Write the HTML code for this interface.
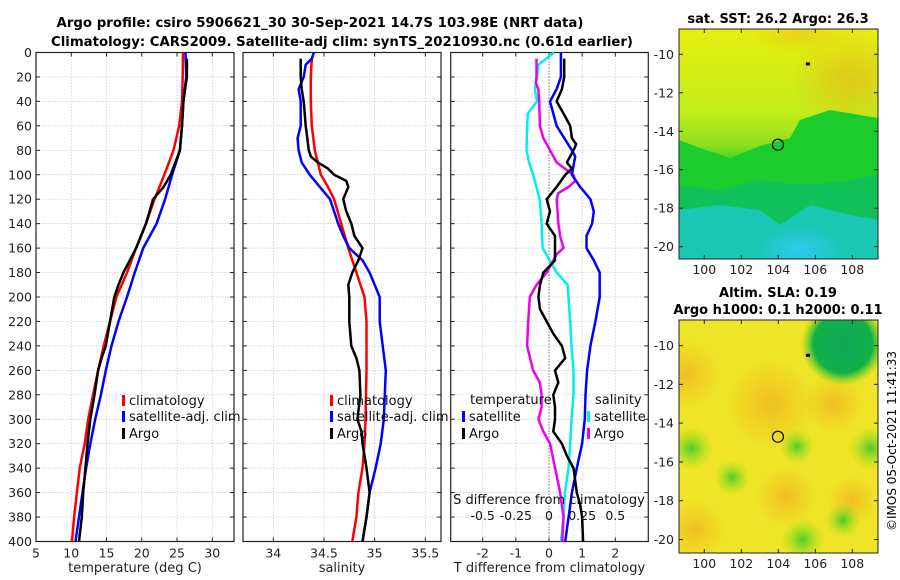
<!DOCTYPE html>
<html><head><meta charset="utf-8"><style>
html,body{margin:0;padding:0;background:#fff;}
svg{display:block;font-family:"DejaVu Sans","Liberation Sans",sans-serif;}
</style></head><body>
<svg id="fig" width="900" height="580" viewBox="0 0 900 580" xmlns="http://www.w3.org/2000/svg">
<defs>
<linearGradient id="sstg" x1="0" y1="0" x2="0" y2="1">
<stop offset="0" stop-color="#e6ee10"/><stop offset="0.35" stop-color="#c4ee18"/><stop offset="0.5" stop-color="#90e020"/>
<stop offset="0.6" stop-color="#22cc28"/><stop offset="0.75" stop-color="#12c050"/><stop offset="0.85" stop-color="#12c4a0"/><stop offset="1" stop-color="#30d0e0"/>
</linearGradient>
<radialGradient id="org"><stop offset="0" stop-color="#f0a020" stop-opacity="0.9"/><stop offset="1" stop-color="#f0a020" stop-opacity="0"/></radialGradient>
<radialGradient id="grn"><stop offset="0" stop-color="#10a858"/><stop offset="0.7" stop-color="#10b048"/><stop offset="1" stop-color="#50d020" stop-opacity="0"/></radialGradient>
<radialGradient id="grn2"><stop offset="0" stop-color="#30c828" stop-opacity="0.85"/><stop offset="1" stop-color="#90e020" stop-opacity="0"/></radialGradient>
<radialGradient id="cyn"><stop offset="0" stop-color="#30c8f0"/><stop offset="1" stop-color="#30c8f0" stop-opacity="0"/></radialGradient>
<clipPath id="c1"><rect x="679" y="29" width="199" height="230"/></clipPath>
<clipPath id="c2"><rect x="679" y="320" width="199" height="233"/></clipPath>
</defs>
<text x="320" y="27" text-anchor="middle" font-size="13" font-weight="bold" textLength="527" lengthAdjust="spacingAndGlyphs">Argo profile: csiro 5906621_30 30-Sep-2021 14.7S 103.98E (NRT data)</text>
<text x="342" y="46" text-anchor="middle" font-size="13" font-weight="bold" textLength="582" lengthAdjust="spacingAndGlyphs">Climatology: CARS2009. Satellite-adj clim: synTS_20210930.nc (0.61d earlier)</text>
<g id="panels"></g>
<g id="maps"></g>
<text transform="translate(896,441) rotate(-90)" text-anchor="middle" font-size="12">©IMOS 05-Oct-2021 11:41:33</text>
</svg>
<script>
const depths=[0,20,40,60,80,100,120,140,160,180,200,220,240,260,280,300,320,340,360,380,400];
const tClim=[25.85,25.8,25.7,25.3,24.5,23.2,21.8,20.6,19.2,17.9,16.4,15.5,14.6,13.8,13.1,12.4,11.9,11.2,10.8,10.4,10.1];
const tSat=[26.2,26.3,25.9,25.7,25.4,24.3,23.3,22.1,20.2,19.0,17.9,16.7,15.7,14.9,14.2,13.4,12.7,12.1,11.6,11.1,10.6];
const argoDepths=[5,20,40,60,80,100,110,120,140,160,170,180,190,200,220,240,250,260,280,300,320,340,360,380,400];
const tArgo=[26.4,26.4,25.9,25.7,25.4,24.1,23.1,21.6,20.6,19.2,18.3,17.4,16.7,16.1,15.5,14.9,14.3,13.8,13.3,12.7,12.3,12.0,11.7,11.5,11.1];
const sDepths=[5,20,40,60,80,100,110,120,140,160,180,200,220,260,300,320,340,360,380,400];
const sClim=[34.38,34.37,34.37,34.38,34.41,34.47,34.54,34.60,34.67,34.74,34.82,34.90,34.92,34.92,34.91,34.90,34.88,34.84,34.82,34.78];
const sSatDepths=[0,5,10,20,30,40,60,70,80,90,100,110,120,140,150,160,170,180,200,220,240,260,280,300,320,340,360,380,400];
const sSat=[34.40,34.38,34.32,34.30,34.25,34.27,34.27,34.24,34.25,34.28,34.36,34.46,34.56,34.64,34.69,34.75,34.88,34.95,35.05,35.05,35.08,35.11,35.10,35.09,35.06,35.01,34.95,34.92,34.88];
const sArgoDepths=[5,20,30,40,60,80,85,90,95,100,105,110,120,130,140,150,160,170,180,190,200,220,240,250,260,280,300,310,320,340,360,380,400];
const sArgo=[34.27,34.27,34.28,34.30,34.32,34.35,34.37,34.44,34.54,34.60,34.72,34.74,34.69,34.72,34.77,34.80,34.88,34.84,34.78,34.74,34.75,34.75,34.77,34.82,34.85,34.86,34.83,34.87,34.88,34.92,34.95,34.92,34.88];
const dtDepths=[0,20,30,40,60,80,85,100,110,120,130,140,150,160,170,180,200,220,240,260,280,300,320,340,360,380,400];
const dtSat=[0.36,0.36,0.23,0.03,0.23,0.69,0.79,0.69,0.94,1.25,1.35,1.3,1.13,1.13,1.35,1.53,1.53,1.4,1.25,1.15,1.1,1.08,1.0,0.84,0.69,0.59,0.49];
const dtArgoDepths=[5,20,30,40,50,60,70,75,80,90,95,100,110,120,130,140,150,160,170,180,190,200,210,220,230,240,250,260,270,280,290,300,310,320,330,340,350,360,370,380,400];
const dtArgo=[0.46,0.46,0.39,0.23,0.44,0.64,0.69,0.82,0.74,0.54,0.69,0.49,0.23,-0.07,0.03,-0.07,0.18,0.18,0.18,-0.17,-0.27,-0.32,-0.27,-0.07,0.13,0.39,0.49,0.18,0.28,0.13,0.18,0.18,0.13,0.39,0.54,0.74,0.79,0.84,0.94,1.0,1.03];
const dsDepths=[0,5,10,20,30,40,50,60,80,90,100,120,140,160,180,190,200,220,240,260,280,300,320,340,360,380,400];
const dsSat=[0.038,-0.02,-0.08,-0.09,-0.107,-0.09,-0.16,-0.165,-0.17,-0.15,-0.12,-0.07,-0.056,-0.048,0.058,0.14,0.147,0.16,0.17,0.185,0.185,0.17,0.16,0.147,0.12,0.11,0.09];
const dsArgoDepths=[5,20,25,30,40,60,70,80,90,95,100,105,110,115,120,140,150,160,165,170,180,190,200,220,240,260,270,280,290,300,310,320,340,360,380,400];
const dsArgo=[-0.094,-0.094,-0.099,-0.081,-0.074,-0.069,-0.043,0.008,0.058,0.12,0.185,0.198,0.147,0.071,0.058,0.071,0.084,0.109,0.058,0.033,-0.018,-0.094,-0.145,-0.157,-0.165,-0.12,-0.069,-0.056,-0.056,-0.08,-0.043,0.008,0.046,0.084,0.109,0.10];
const tTicks=[5,10,15,20,25,30];
const sTicks=[34,34.5,35,35.5];
const dTicks=[-2,-1,0,1,2];
const dsTicks=[-0.5,-0.25,0,0.25,0.5];
const depthTicks=[0,20,40,60,80,100,120,140,160,180,200,220,240,260,280,300,320,340,360,380,400];
const latTicks=[-10,-12,-14,-16,-18,-20];
const lonTicks=[100,102,104,106,108];

const NS="http://www.w3.org/2000/svg";
function mk(tag,attrs,parent,txt){const e=document.createElementNS(NS,tag);for(const k in attrs)e.setAttribute(k,attrs[k]);if(txt!==undefined)e.textContent=txt;parent.appendChild(e);return e;}
const P=document.getElementById('panels');
const Y0=52.5,Y1=541.5;
const yD=d=>Y0+(d/400)*(Y1-Y0);
function lin(d0,d1,p0,p1){return v=>p0+(v-d0)/(d1-d0)*(p1-p0);}
function panel(name,x0,x1,xs,ticks,fmt,xlabel,showDepth){
  const g=mk('g',{},P);
  
  
  depthTicks.forEach(d=>{const l=mk('line',{x1:x0,x2:x1,y1:yD(d),y2:yD(d),stroke:'#b8c4dc','stroke-width':0.7,'stroke-dasharray':'1.5,1.5'},g);
    
    mk('line',{x1:x0,x2:x0+4,y1:yD(d),y2:yD(d),stroke:'#222'},g);mk('line',{x1:x1-4,x2:x1,y1:yD(d),y2:yD(d),stroke:'#222'},g);
    if(showDepth){const t=mk('text',{x:x0-4,y:yD(d)+4.5,'text-anchor':'end','font-size':12.5,fill:'#222'},g,String(d));}
  });
  ticks.forEach(v=>{const x=xs(v);
    const l=mk('line',{x1:x,x2:x,y1:Y0,y2:Y1,stroke:'#b8c4dc','stroke-width':0.7,'stroke-dasharray':'1.5,1.5'},g);
    
    mk('line',{x1:x,x2:x,y1:Y0,y2:Y0+4,stroke:'#222'},g);mk('line',{x1:x,x2:x,y1:Y1-4,y2:Y1,stroke:'#222'},g);
    const t=mk('text',{x:x,y:Y1+16,'text-anchor':'middle','font-size':12.5,fill:'#222'},g,fmt(v));
    
  });
  const r=mk('rect',{x:x0,y:Y0,width:x1-x0,height:Y1-Y0,fill:'none',stroke:'#222','stroke-width':1.2},g);
  
  const xl=mk('text',{x:(x0+x1)/2,y:572,'text-anchor':'middle','font-size':13,fill:'#222'},g,xlabel);
  
  return g;
}
function series(g,name,ds,vs,xs,color,w){
  const pts=ds.map((d,i)=>xs(vs[i]).toFixed(1)+','+yD(d).toFixed(1)).join(' ');
  const p=mk('polyline',{points:pts,fill:'none',stroke:color,'stroke-width':w,'stroke-linejoin':'round'},g);
  
}
function legend(g,name,x,y,color,label){
  const e=mk('g',{},g);
  
  mk('rect',{x:x,y:y-9,width:3,height:11,fill:color},e);
  mk('text',{x:x+7,y:y+1,'font-size':13,fill:'#111'},e,label);
}
const xT=lin(5,30,36,212.3);
const g1=panel('temperature-panel',36,234,xT,tTicks,String,'temperature (deg C)',true);
series(g1,'temperature-climatology-line',depths,tClim,xT,'#f00',2.5);
series(g1,'temperature-satellite-line',depths,tSat,xT,'#00f',2.5);
series(g1,'temperature-argo-line',argoDepths,tArgo,xT,'#000',2.5);
legend(g1,'legend-climatology',122,404,'#f00','climatology');
legend(g1,'legend-satellite-adj',122,420,'#00f','satellite-adj. clim');
legend(g1,'legend-argo',122,437,'#000','Argo');
const xS=lin(34,35.5,273.3,425.3);
const g2=panel('salinity-panel',243,441,xS,sTicks,String,'salinity',false);
series(g2,'salinity-climatology-line',sDepths,sClim,xS,'#f00',2.5);
series(g2,'salinity-satellite-line',sSatDepths,sSat,xS,'#00f',2.5);
series(g2,'salinity-argo-line',sArgoDepths,sArgo,xS,'#000',2.5);
legend(g2,'legend-climatology-s',330,404,'#f00','climatology');
legend(g2,'legend-satellite-adj-s',330,420,'#00f','satellite-adj. clim');
legend(g2,'legend-argo-s',330,437,'#000','Argo');
const xDT=lin(-2,2,482.7,615.3);
const xDS=v=>xDT(v*4);
const g3=panel('difference-panel',450.7,648.3,xDT,dTicks,String,'T difference from climatology',false);
const z=mk('line',{x1:xDT(0),x2:xDT(0),y1:Y0,y2:Y1,stroke:'#444','stroke-width':1,'stroke-dasharray':'1,2'},g3);

series(g3,'salinity-satellite-diff-line',dsDepths,dsSat,xDS,'#0ee','2.5');
series(g3,'salinity-argo-diff-line',dsArgoDepths,dsArgo,xDS,'#e0e','2.5');
series(g3,'temperature-satellite-diff-line',dtDepths,dtSat,xDT,'#00f','2.5');
series(g3,'temperature-argo-diff-line',dtArgoDepths,dtArgo,xDT,'#000','2.5');
let t=mk('text',{x:470,y:404,'font-size':13,fill:'#111'},g3,'temperature');
t=mk('text',{x:595,y:404,'font-size':13,fill:'#111'},g3,'salinity');
legend(g3,'legend-t-satellite',462,420,'#00f','satellite');
legend(g3,'legend-t-argo',462,437,'#000','Argo');
legend(g3,'legend-s-satellite',587,420,'#0ee','satellite');
legend(g3,'legend-s-argo',587,437,'#e0e','Argo');
t=mk('text',{x:549,y:504,'text-anchor':'middle','font-size':13,fill:'#111'},g3,'S difference from climatology');
dsTicks.forEach(v=>{const tt=mk('text',{x:xDS(v),y:520,'text-anchor':'middle','font-size':12.5,fill:'#111'},g3,String(v));});

const M=document.getElementById('maps');
const lonX=lin(100,108,704.3,852.3);
function mapAxes(name,yTop,yBot,latY){
  const g=mk('g',{},M);
  
  latTicks.forEach(v=>{const y=latY(v);mk('line',{x1:679,x2:683,y1:y,y2:y,stroke:'#222'},g);mk('line',{x1:874,x2:878,y1:y,y2:y,stroke:'#222'},g);
    const tt=mk('text',{x:674,y:y+4.5,'text-anchor':'end','font-size':12.5,fill:'#222'},g,String(v));});
  lonTicks.forEach(v=>{const x=lonX(v);mk('line',{x1:x,x2:x,y1:yTop,y2:yTop+4,stroke:'#222'},g);mk('line',{x1:x,x2:x,y1:yBot-4,y2:yBot,stroke:'#222'},g);
    const tt=mk('text',{x:x,y:yBot+15,'text-anchor':'middle','font-size':12.5,fill:'#222'},g,String(v));});
  mk('rect',{x:679,y:yTop,width:199,height:yBot-yTop,fill:'none',stroke:'#222','stroke-width':1},g);
  const c=mk('circle',{cx:lonX(103.98),cy:latY(-14.7),r:5.5,fill:'none',stroke:'#000','stroke-width':1.2},g);
  
  mk('rect',{x:lonX(105.6)-2,y:latY(-10.5)-1.5,width:4,height:3,fill:'#000'},g);
  return g;
}
const lat1=lin(-10,-20,54.3,246.7);
const sst=mk('g',{'clip-path':'url(#c1)'},M);

mk('rect',{x:679,y:29,width:199,height:230,fill:'url(#sstg)'},sst);
mk('ellipse',{cx:850,cy:80,rx:60,ry:50,fill:'url(#org)',opacity:0.55},sst);
mk('ellipse',{cx:800,cy:35,rx:50,ry:18,fill:'url(#org)',opacity:0.4},sst);
mk('path',{d:'M679,140 L700,148 L730,158 L760,146 L790,138 L800,120 L830,110 L860,115 L878,118 L878,200 L679,200 Z',fill:'#1ccc2c'},sst);
mk('path',{d:'M679,185 L720,190 L760,180 L800,185 L840,182 L878,175 L878,259 L679,259 Z',fill:'#12c05a'},sst);
mk('path',{d:'M679,210 L720,205 L760,210 L780,225 L810,205 L850,215 L878,220 L878,259 L679,259 Z',fill:'#18c8b4'},sst);
mk('ellipse',{cx:800,cy:250,rx:45,ry:25,fill:'url(#cyn)'},sst);
mapAxes('sst-map',29,259,lat1);
t=mk('text',{x:778,y:23,'text-anchor':'middle','font-size':13,'font-weight':'bold'},M,'sat. SST: 26.2 Argo: 26.3');
const lat2=lin(-10,-20,345.6,539.5);
const sla=mk('g',{'clip-path':'url(#c2)'},M);

mk('rect',{x:679,y:320,width:199,height:233,fill:'#f0e426'},sla);
[[103.6,-13,45],[104.4,-17.8,30],[99.5,-19.5,30],[99,-11.5,35],[107,-13,30],[108,-18,25]].forEach(b=>mk('circle',{cx:lonX(b[0]),cy:lat2(b[1]),r:b[2],fill:'url(#org)',opacity:0.6},sla));
[[99.3,-15.3,22],[105,-15.2,18],[109,-15.3,22],[105.3,-20,22],[101.5,-16.8,18],[107.5,-19,18]].forEach(b=>mk('circle',{cx:lonX(b[0]),cy:lat2(b[1]),r:b[2],fill:'url(#grn2)'},sla));
mk('circle',{cx:lonX(107.5),cy:lat2(-9.9),r:42,fill:'url(#grn)'},sla);
mapAxes('sla-map',320,553,lat2);
t=mk('text',{x:778,y:297,'text-anchor':'middle','font-size':13,'font-weight':'bold'},M,'Altim. SLA: 0.19');
t=mk('text',{x:778,y:314,'text-anchor':'middle','font-size':13,'font-weight':'bold'},M,'Argo h1000: 0.1 h2000: 0.11');
</script>
</body></html>
